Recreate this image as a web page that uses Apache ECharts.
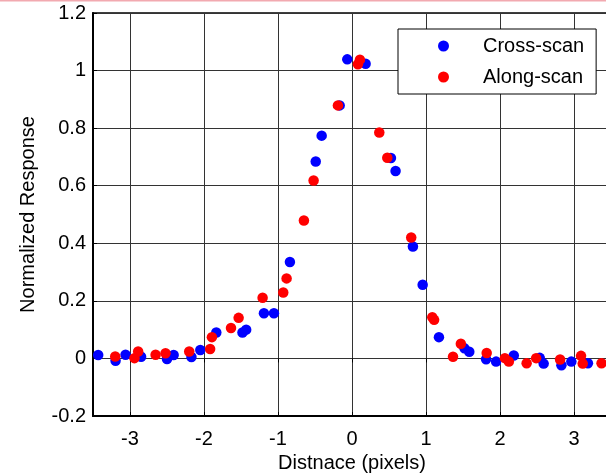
<!DOCTYPE html>
<html>
<head>
<meta charset="utf-8">
<script src="https://cdn.jsdelivr.net/npm/echarts@6/dist/echarts.min.js"></script>
<style>html,body{margin:0;padding:0;background:#fff;}#c{width:606px;height:475px;}</style>
</head>
<body>
<div id="c"></div>
<script>
const xTicks = [-3, -2, -1, 0, 1, 2, 3];
const crossScan = [
  [-3.43, 0.012], [-3.195, -0.008], [-3.06, 0.013], [-2.85, 0.006], [-2.50, -0.002],
  [-2.41, 0.012], [-2.17, 0.005], [-2.05, 0.029], [-1.834, 0.09], [-1.48, 0.09],
  [-1.43, 0.10], [-1.19, 0.157], [-1.055, 0.157], [-0.839, 0.335], [-0.49, 0.684],
  [-0.41, 0.774], [-0.167, 0.879], [-0.064, 1.039], [0.184, 1.024], [0.526, 0.696],
  [0.589, 0.651], [0.823, 0.389], [0.955, 0.256], [1.175, 0.074], [1.52, 0.035],
  [1.585, 0.023], [1.812, -0.003], [1.947, -0.011], [2.186, 0.01], [2.537, 0.002],
  [2.59, -0.018], [2.83, -0.024], [2.964, -0.011], [3.188, -0.017]
];
const alongScan = [
  [-3.2, 0.007], [-2.94, 0.001], [-2.89, 0.024], [-2.654, 0.013], [-2.52, 0.018],
  [-2.20, 0.024], [-1.917, 0.033], [-1.893, 0.074], [-1.635, 0.106], [-1.532, 0.141],
  [-1.208, 0.211], [-0.929, 0.229], [-0.884, 0.278], [-0.65, 0.479], [-0.519, 0.618],
  [-0.19, 0.879], [0.08, 1.022], [0.107, 1.038], [0.369, 0.785], [0.477, 0.697],
  [0.80, 0.42], [1.085, 0.143], [1.11, 0.134], [1.365, 0.006], [1.471, 0.051],
  [1.82, 0.019], [2.066, 0.001], [2.12, -0.011], [2.36, -0.017], [2.488, 0.001],
  [2.812, -0.004], [3.095, 0.009], [3.118, -0.018], [3.372, -0.017]
];
const seriesNames = ['Cross-scan', 'Along-scan'];
const xName = 'Distnace (pixels)';
const yName = 'Normalized Response';

const font = 'Liberation Sans, Arial, sans-serif';
const chart = echarts.init(document.getElementById('c'), null, {renderer: 'canvas'});
chart.setOption({
  animation: false,
  backgroundColor: '#fff',
  graphic: [{type: 'rect', shape: {x: 0, y: 0, width: 606, height: 1.5}, style: {fill: '#f2a9b0'}, silent: true}],
  grid: {left: 93, top: 13, width: 518, bottom: 59, show: true, borderColor: '#000', borderWidth: 1.5,
    backgroundColor: 'transparent', containLabel: false, outerBoundsMode: 'none'},
  legend: {
    orient: 'vertical', left: 398, top: 29,
    padding: [5, 12, 5, 40],
    itemWidth: 11, itemHeight: 11, itemGap: 7,
    icon: 'circle',
    backgroundColor: '#fff', borderColor: '#000', borderWidth: 1,
    textStyle: {fontFamily: font, fontSize: 20, color: '#000', lineHeight: 24, padding: [0, 0, 0, 29]},
    data: seriesNames
  },
  xAxis: [{
    type: 'value', min: -3.5, max: 3.5,
    name: xName, nameLocation: 'middle', nameGap: 35,
    nameTextStyle: {fontFamily: font, fontSize: 20, color: '#000'},
    axisLine: {show: true, onZero: false, lineStyle: {color: '#000', width: 2}},
    axisTick: {show: true, inside: true, length: 4, customValues: xTicks, lineStyle: {color: '#000'}},
    axisLabel: {fontFamily: font, fontSize: 20, color: '#000', margin: 13, customValues: xTicks},
    splitLine: {show: true, lineStyle: {color: '#333', width: 1}}
  }, {
    type: 'value', min: -3.5, max: 3.5, position: 'top',
    axisLine: {show: false},
    axisTick: {show: true, inside: true, length: 4, customValues: xTicks, lineStyle: {color: '#000'}},
    axisLabel: {show: false},
    splitLine: {show: false}
  }],
  yAxis: {
    type: 'value', min: -0.2, max: 1.2, interval: 0.2,
    name: yName, nameLocation: 'middle', nameGap: 55,
    nameTextStyle: {fontFamily: font, fontSize: 20, color: '#000'},
    axisLine: {show: true, onZero: false, lineStyle: {color: '#000', width: 2}},
    axisTick: {show: true, inside: true, length: 4, lineStyle: {color: '#000'}},
    axisLabel: {fontFamily: font, fontSize: 20, color: '#000', margin: 7,
      formatter: v => String(Math.round(v * 10) / 10)},
    splitLine: {show: true, lineStyle: {color: '#333', width: 1}}
  },
  series: [{
    name: seriesNames[0], type: 'scatter', data: crossScan, symbol: 'circle', symbolSize: 10.5,
    itemStyle: {color: '#0000ff', opacity: 1}, z: 3
  }, {
    name: seriesNames[1], type: 'scatter', data: alongScan, symbol: 'circle', symbolSize: 10.5,
    itemStyle: {color: '#ff0000', opacity: 1}, z: 4
  }]
});
</script>
</body>
</html>
